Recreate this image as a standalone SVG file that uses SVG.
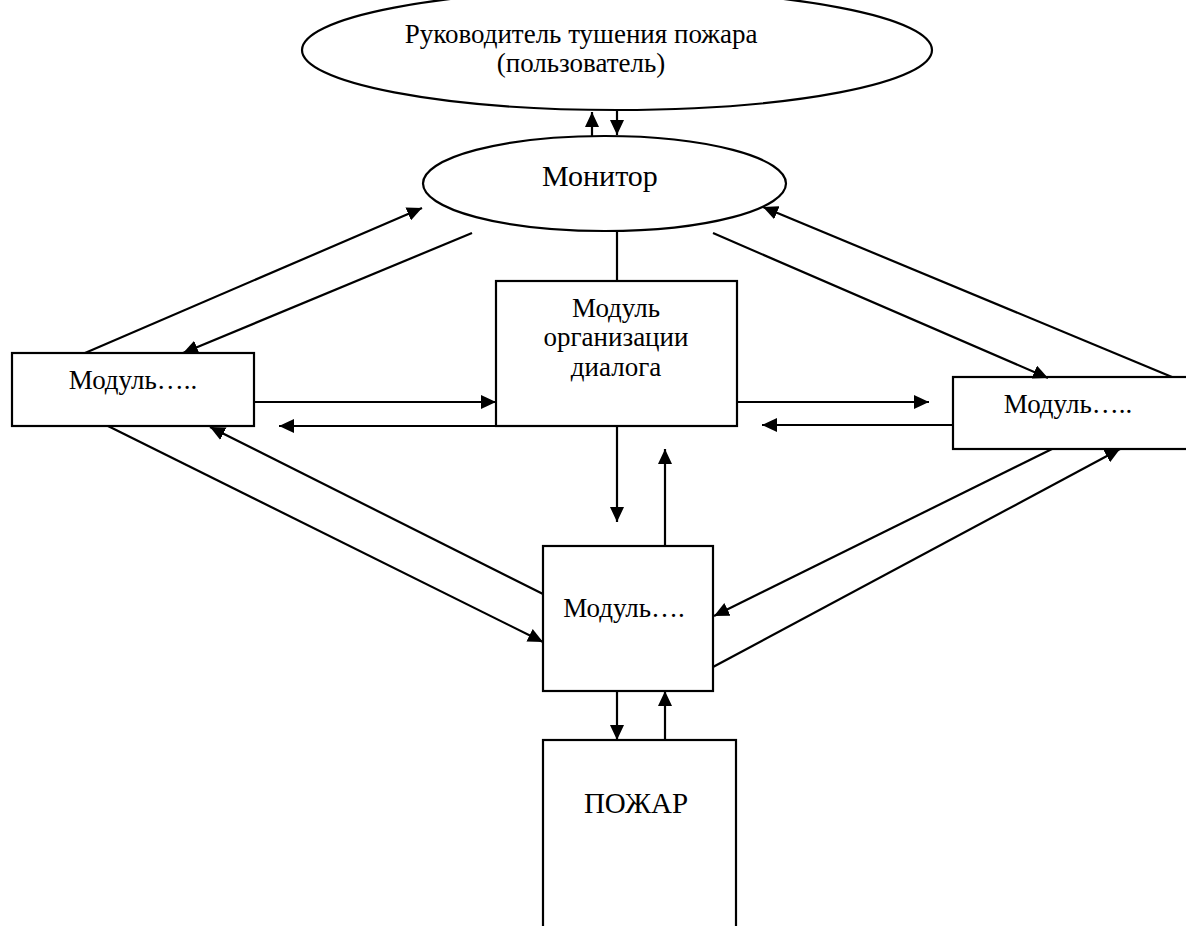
<svg xmlns="http://www.w3.org/2000/svg" width="1186" height="926" viewBox="0 0 1186 926">
<style>
.shape{fill:#fff;stroke:#000;stroke-width:2.2}
.ln{fill:none;stroke:#000;stroke-width:2.2}
.t{font-family:"Liberation Serif","Times New Roman",serif;font-size:27px;fill:#000;text-anchor:middle}
.big{font-size:30px}
.fire{font-size:29px}
</style>
<defs>
<marker id="ah" markerUnits="userSpaceOnUse" markerWidth="15" markerHeight="14" refX="15" refY="7" orient="auto">
<path d="M0,0 L15,7 L0,14 z" fill="#000"/>
</marker>
</defs>
<rect width="1186" height="926" fill="#fff"/>
<g id="user">
<ellipse class="shape" cx="617" cy="50" rx="315" ry="60"/>
<text class="t" x="581" y="43">Руководитель тушения пожара</text>
<text class="t" x="581" y="72">(пользователь)</text>
</g>
<g id="monitor">
<ellipse class="shape" cx="604.5" cy="183.5" rx="181.5" ry="47.5"/>
<text class="t big" x="600" y="186">Монитор</text>
</g>
<g id="dialog">
<rect class="shape" x="496" y="281" width="241" height="145"/>
<text class="t" x="616" y="317">Модуль</text>
<text class="t" x="616" y="346">организации</text>
<text class="t" x="616" y="376">диалога</text>
</g>
<g id="moduleLeft">
<rect class="shape" x="12" y="353" width="242" height="73"/>
<text class="t" x="133" y="389">Модуль…..</text>
</g>
<g id="moduleRight">
<rect class="shape" x="953" y="377" width="260" height="72"/>
<text class="t" x="1068" y="413">Модуль…..</text>
</g>
<g id="moduleBottom">
<rect class="shape" x="543" y="546" width="170" height="145"/>
<text class="t" x="624" y="617">Модуль….</text>
</g>
<g id="fire">
<rect class="shape" x="543" y="740" width="193" height="220"/>
<text class="t fire" x="636" y="813">ПОЖАР</text>
</g>
<g id="connectors">
<line class="ln" x1="592" y1="136" x2="592" y2="112" marker-end="url(#ah)"/>
<line class="ln" x1="617" y1="111" x2="617" y2="135" marker-end="url(#ah)"/>
<line class="ln" x1="617" y1="231" x2="617" y2="281"/>
<line class="ln" x1="85" y1="353" x2="422" y2="208" marker-end="url(#ah)"/>
<line class="ln" x1="472" y1="233" x2="183" y2="353" marker-end="url(#ah)"/>
<line class="ln" x1="713" y1="233" x2="1048" y2="378" marker-end="url(#ah)"/>
<line class="ln" x1="1172" y1="377" x2="763" y2="207" marker-end="url(#ah)"/>
<line class="ln" x1="254" y1="402" x2="496" y2="402" marker-end="url(#ah)"/>
<line class="ln" x1="496" y1="426" x2="279" y2="426" marker-end="url(#ah)"/>
<line class="ln" x1="737" y1="402" x2="929" y2="402" marker-end="url(#ah)"/>
<line class="ln" x1="953" y1="425" x2="762" y2="425" marker-end="url(#ah)"/>
<line class="ln" x1="617" y1="426" x2="617" y2="522" marker-end="url(#ah)"/>
<line class="ln" x1="665" y1="546" x2="665" y2="449" marker-end="url(#ah)"/>
<line class="ln" x1="108" y1="426" x2="543" y2="642" marker-end="url(#ah)"/>
<line class="ln" x1="543" y1="594" x2="210" y2="427" marker-end="url(#ah)"/>
<line class="ln" x1="1052" y1="449" x2="714" y2="616" marker-end="url(#ah)"/>
<line class="ln" x1="713" y1="667" x2="1120" y2="449" marker-end="url(#ah)"/>
<line class="ln" x1="617" y1="691" x2="617" y2="740" marker-end="url(#ah)"/>
<line class="ln" x1="665" y1="740" x2="665" y2="691" marker-end="url(#ah)"/>
</g>
</svg>
